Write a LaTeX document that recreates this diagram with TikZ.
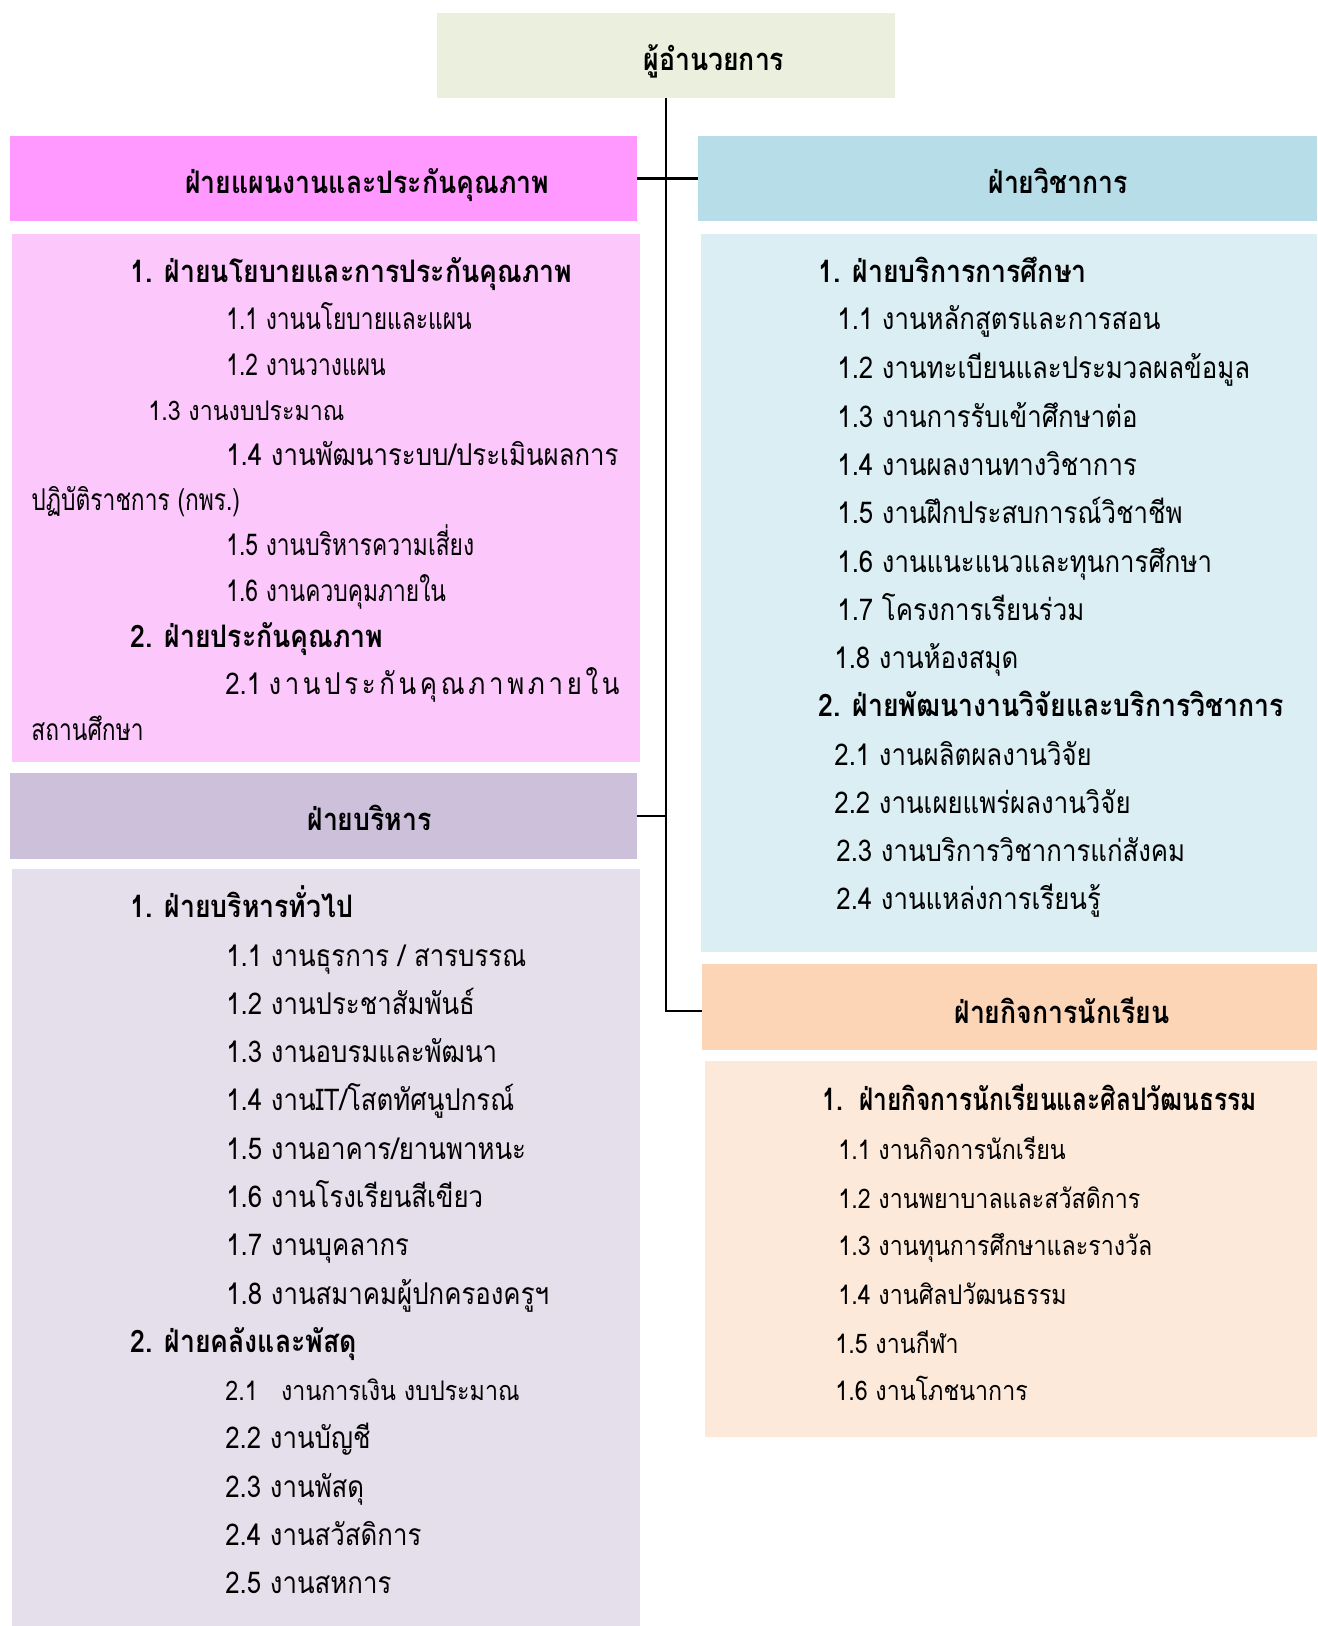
\documentclass[tikz,border=0pt]{standalone}
\usepackage{fontspec}
\newfontfamily\thai[Script=Thai,FakeStretch=0.86]{Loma}
\newfontfamily\thain[Script=Thai,FakeStretch=0.76]{Loma}
\newfontfamily\thaic[Script=Thai,FakeStretch=0.79]{Loma}
\definecolor{cTop}{HTML}{EBF0DE}
\definecolor{cPinkH}{HTML}{FF99FF}
\definecolor{cPinkC}{HTML}{FCC8FC}
\definecolor{cBlueH}{HTML}{B7DDE8}
\definecolor{cBlueC}{HTML}{DAEEF3}
\definecolor{cPurpH}{HTML}{CCC0DA}
\definecolor{cPurpC}{HTML}{E5DFEC}
\definecolor{cOrH}{HTML}{FBD5B5}
\definecolor{cOrC}{HTML}{FDE9D9}
\tikzset{
  box/.style={inner sep=0pt, outer sep=0pt, draw=none},
  hdr/.style={font=\thai\bfseries\fontsize{15.5}{18}\selectfont, anchor=base west, inner sep=0pt},
  sect/.style={font=\thai\bfseries\fontsize{15.5}{18}\selectfont, anchor=base west, inner sep=0pt},
  sectc/.style={font=\thaic\bfseries\fontsize{15.5}{18}\selectfont, anchor=base west, inner sep=0pt},
  itm/.style={font=\thai\fontsize{15}{18}\selectfont, anchor=base west, inner sep=0pt},
  itmn/.style={font=\thain\fontsize{15}{18}\selectfont, anchor=base west, inner sep=0pt},
  itms/.style={font=\thai\fontsize{13.5}{16}\selectfont, anchor=base west, inner sep=0pt},
  conn/.style={line width=1pt, black}
}
\begin{document}
\begin{tikzpicture}[x=0.5pt,y=-0.5pt]
\useasboundingbox (0,0) rectangle (1317,1626);
% boxes
\node[box, fill=cTop, minimum width=229pt, minimum height=42.5pt] (top) at (666,55.5) {};
\node[box, fill=cPinkH, minimum width=313.5pt, minimum height=42.5pt] (pinkH) at (323.5,178.5) {};
\node[box, fill=cPinkC, minimum width=314pt, minimum height=264pt] (pinkC) at (326,498) {};
\node[box, fill=cBlueH, minimum width=309.5pt, minimum height=42.5pt] (blueH) at (1007.5,178.5) {};
\node[box, fill=cBlueC, minimum width=308pt, minimum height=359pt] (blueC) at (1009,593) {};
\node[box, fill=cPurpH, minimum width=313.5pt, minimum height=43pt] (purpH) at (323.5,816) {};
\node[box, fill=cPurpC, minimum width=314pt, minimum height=378.5pt] (purpC) at (326,1247.5) {};
\node[box, fill=cOrH, minimum width=307.5pt, minimum height=43pt] (orH) at (1009.5,1007) {};
\node[box, fill=cOrC, minimum width=306pt, minimum height=188pt] (orC) at (1011,1249) {};
% connectors
\coordinate (orJ) at (orH.west |- 0,1011);
\draw[conn] (top.south) -- (top.south |- orJ) -- (orJ);
\draw[conn, line width=1.5pt] (pinkH.east) -- (blueH.west);
\draw[conn] (purpH.east) -- (purpH.east -| top.south);
% header texts
\node[hdr] (tTop) at (643,71) {ผู้อำนวยการ};
\node[hdr] (tPinkH) at (185,194) {ฝ่ายแผนงานและประกันคุณภาพ};
\node[hdr] (tBlueH) at (988,194) {ฝ่ายวิชาการ};
\node[hdr] (tPurpH) at (307,830) {ฝ่ายบริหาร};
\node[hdr] (tOrH) at (954,1023) {ฝ่ายกิจการนักเรียน};
% pink content
\node[sect] (p1) at (130,283) {1. ฝ่ายนโยบายและการประกันคุณภาพ};
\node[itmn] (p11) at (226,329) {1.1 งานนโยบายและแผน};
\node[itmn] (p12) at (226,375) {1.2 งานวางแผน};
\node[itms] (p13) at (148,420) {1.3 งานงบประมาณ};
\node[itm] (p14) at (226,465) {1.4 งานพัฒนาระบบ/ประเมินผลการ};
\node[itmn] (p14b) at (31,510) {ปฏิบัติราชการ (กพร.)};
\node[itmn] (p15) at (226,555) {1.5 งานบริหารความเสี่ยง};
\node[itmn] (p16) at (226,601) {1.6 งานควบคุมภายใน};
\node[sect] (p2) at (130,647) {2. ฝ่ายประกันคุณภาพ};
\node[itm] (p21) at (225,694) {\makebox[197pt][s]{2.1\hfil\hfil ง\hfil า\hfil น\hfil ป\hfil ร\hfil ะ\hfil กั\hfil น\hfil คุ\hfil ณ\hfil ภ\hfil า\hfil พ\hfil ภ\hfil า\hfil ย\hfil ใ\hfil น}};
\node[itmn] (p21b) at (31,740) {สถานศึกษา};
% blue content
\node[sect] (b1) at (818,283) {1. ฝ่ายบริการการศึกษา};
\node[itm] (b11) at (837,330) {1.1 งานหลักสูตรและการสอน};
\node[itm] (b12) at (837,379) {1.2 งานทะเบียนและประมวลผลข้อมูล};
\node[itm] (b13) at (837,427) {1.3 งานการรับเข้าศึกษาต่อ};
\node[itm] (b14) at (837,475) {1.4 งานผลงานทางวิชาการ};
\node[itm] (b15) at (837,523) {1.5 งานฝึกประสบการณ์วิชาชีพ};
\node[itm] (b16) at (837,572) {1.6 งานแนะแนวและทุนการศึกษา};
\node[itm] (b17) at (837,620) {1.7 โครงการเรียนร่วม};
\node[itm] (b18) at (834,668) {1.8 งานห้องสมุด};
\node[sect] (b2) at (818,716) {2. ฝ่ายพัฒนางานวิจัยและบริการวิชาการ};
\node[itm] (b21) at (834,765) {2.1 งานผลิตผลงานวิจัย};
\node[itm] (b22) at (834,813) {2.2 งานเผยแพร่ผลงานวิจัย};
\node[itm] (b23) at (836,861) {2.3 งานบริการวิชาการแก่สังคม};
\node[itm] (b24) at (836,909) {2.4 งานแหล่งการเรียนรู้};
% purple content
\node[sect] (u1) at (130,917) {1. ฝ่ายบริหารทั่วไป};
\node[itm] (u11) at (226,966) {1.1 งานธุรการ / สารบรรณ};
\node[itm] (u12) at (226,1014) {1.2 งานประชาสัมพันธ์};
\node[itm] (u13) at (226,1062) {1.3 งานอบรมและพัฒนา};
\node[itm] (u14) at (226,1110) {1.4 งานIT/โสตทัศนูปกรณ์};
\node[itm] (u15) at (226,1159) {1.5 งานอาคาร/ยานพาหนะ};
\node[itm] (u16) at (226,1207) {1.6 งานโรงเรียนสีเขียว};
\node[itm] (u17) at (226,1255) {1.7 งานบุคลากร};
\node[itm] (u18) at (226,1304) {1.8 งานสมาคมผู้ปกครองครูฯ};
\node[sect] (u2) at (130,1352) {2. ฝ่ายคลังและพัสดุ};
\node[itms] (u21) at (225,1400) {2.1\ \ \ งานการเงิน งบประมาณ};
\node[itm] (u22) at (225,1448) {2.2 งานบัญชี};
\node[itm] (u23) at (225,1497) {2.3 งานพัสดุ};
\node[itm] (u24) at (225,1545) {2.4 งานสวัสดิการ};
\node[itm] (u25) at (225,1593) {2.5 งานสหการ};
% orange content
\node[sectc] (o1) at (822,1110) {1.\ \ ฝ่ายกิจการนักเรียนและศิลปวัฒนธรรม};
\node[itms] (o11) at (838,1159) {1.1 งานกิจการนักเรียน};
\node[itms] (o12) at (838,1208) {1.2 งานพยาบาลและสวัสดิการ};
\node[itms] (o13) at (838,1255) {1.3 งานทุนการศึกษาและรางวัล};
\node[itms] (o14) at (838,1304) {1.4 งานศิลปวัฒนธรรม};
\node[itms] (o15) at (835,1353) {1.5 งานกีฬา};
\node[itms] (o16) at (835,1400) {1.6 งานโภชนาการ};
\end{tikzpicture}
\end{document}
